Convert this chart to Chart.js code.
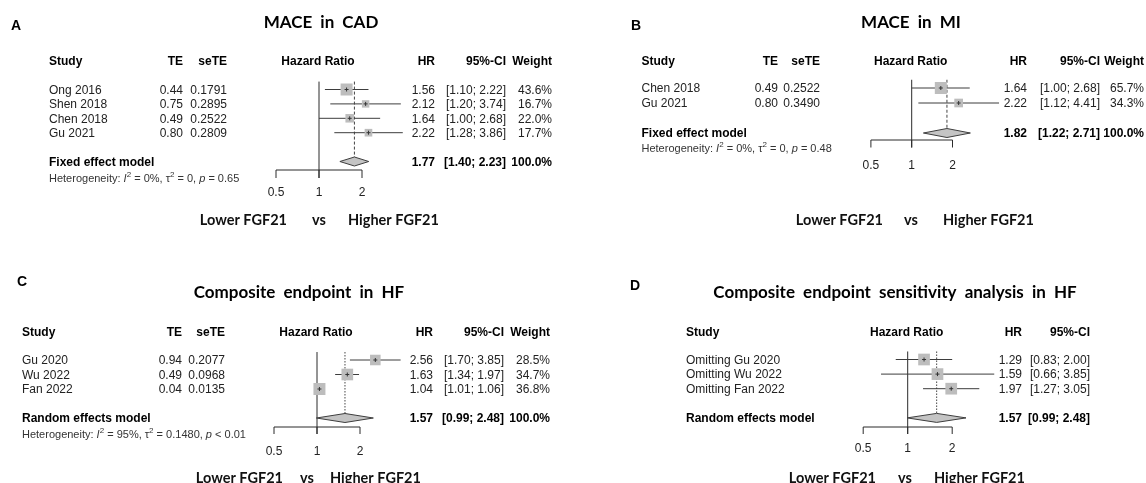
<!DOCTYPE html>
<html lang="en">
<head>
<meta charset="UTF-8">
<title>FGF21 forest plots</title>
<script src="https://cdn.jsdelivr.net/npm/chart.js@4.4.1/dist/chart.umd.min.js"></script>
<style>
  html, body { margin: 0; padding: 0; background: #fff; }
  #wrap { position: relative; width: 1146px; height: 483px; overflow: hidden; background: #fff; }
  #wrap canvas { position: absolute; }
</style>
</head>
<body>
<div id="wrap">
  <canvas id="chartA" width="573" height="241" style="left:0;top:0"></canvas>
  <canvas id="chartB" width="573" height="241" style="left:573px;top:0"></canvas>
  <canvas id="chartC" width="573" height="242" style="left:0;top:241px"></canvas>
  <canvas id="chartD" width="573" height="242" style="left:573px;top:241px"></canvas>
</div>
<script>
// ---- values ----
// A: MACE in CAD
const studiesA = ['Ong 2016', 'Shen 2018', 'Chen 2018', 'Gu 2021'];
const teA      = [0.44, 0.75, 0.49, 0.80];
const seTeA    = [0.1791, 0.2895, 0.2522, 0.2809];
const hrA      = [1.56, 2.12, 1.64, 2.22];
const lowerA   = [1.10, 1.20, 1.00, 1.28];
const upperA   = [2.22, 3.74, 2.68, 3.86];
const weightA  = [43.6, 16.7, 22.0, 17.7];
const pooledA  = [1.77, 1.40, 2.23];        // HR, lower, upper
const hetA     = ['0%', '0', '= 0.65'];     // I2, tau2, p

// B: MACE in MI
const studiesB = ['Chen 2018', 'Gu 2021'];
const teB      = [0.49, 0.80];
const seTeB    = [0.2522, 0.3490];
const hrB      = [1.64, 2.22];
const lowerB   = [1.00, 1.12];
const upperB   = [2.68, 4.41];
const weightB  = [65.7, 34.3];
const pooledB  = [1.82, 1.22, 2.71];
const hetB     = ['0%', '0', '= 0.48'];

// C: Composite endpoint in HF
const studiesC = ['Gu 2020', 'Wu 2022', 'Fan 2022'];
const teC      = [0.94, 0.49, 0.04];
const seTeC    = [0.2077, 0.0968, 0.0135];
const hrC      = [2.56, 1.63, 1.04];
const lowerC   = [1.70, 1.34, 1.01];
const upperC   = [3.85, 1.97, 1.06];
const weightC  = [28.5, 34.7, 36.8];
const pooledC  = [1.57, 0.99, 2.48];
const hetC     = ['95%', '0.1480', '< 0.01'];

// D: sensitivity analysis (leave one out)
const studiesD = ['Omitting Gu 2020', 'Omitting Wu 2022', 'Omitting Fan 2022'];
const hrD      = [1.29, 1.59, 1.97];
const lowerD   = [0.83, 0.66, 1.27];
const upperD   = [2.00, 3.85, 3.05];
const pooledD  = [1.57, 0.99, 2.48];

const hrTicks = [0.5, 1, 2];

// ---- panel layouts (pixels inside each canvas) ----
const layoutA = {
  canvas: 'chartA', letter: 'A', letterX: 11, letterY: 26,
  title: 'MACE in CAD', titleX: 321, titleY: 23,
  headerY: 62, rowTop: 89.5, rowH: 14.4,
  cols: { study: 49, te: 183, se: 227, hr: 435, ci: 506, wt: 552 },
  x1: 319, perDoubling: 43, boxMax: 12,
  axisY: 170, tickLen: 8, tickLabelY: 193, hetGap: 16,
  dash: [3, 2], model: 'Fixed effect model',
  footY: 220, footVs: 319, footLower: 287, footHigher: 348
};
const layoutB = {
  canvas: 'chartB', letter: 'B', letterX: 58, letterY: 26,
  title: 'MACE in MI', titleX: 338, titleY: 23,
  headerY: 62, rowTop: 88, rowH: 15,
  cols: { study: 68.5, te: 205, se: 247, hr: 454, ci: 527, wt: 571 },
  x1: 338.7, perDoubling: 40.8, boxMax: 12,
  axisY: 140, tickLen: 7.5, tickLabelY: 166, hetGap: 15,
  dash: [3, 2], model: 'Fixed effect model',
  footY: 220, footVs: 338, footLower: 310, footHigher: 370
};
const layoutC = {
  canvas: 'chartC', letter: 'C', letterX: 17, letterY: 41,
  title: 'Composite endpoint in HF', titleX: 299, titleY: 52,
  headerY: 91.5, rowTop: 119, rowH: 14.5,
  cols: { study: 22, te: 182, se: 225, hr: 433, ci: 504, wt: 550 },
  x1: 317, perDoubling: 43, boxMax: 12,
  axisY: 186, tickLen: 7, tickLabelY: 210.5, hetGap: 16,
  dash: [1.5, 1.5], model: 'Random effects model',
  footY: 237, footVs: 307, footLower: 283, footHigher: 330
};
const layoutD = {
  canvas: 'chartD', letter: 'D', letterX: 57, letterY: 45,
  title: 'Composite endpoint sensitivity analysis in HF', titleX: 322, titleY: 52,
  headerY: 91.5, rowTop: 118.5, rowH: 14.6,
  cols: { study: 113, hr: 449, ci: 517 },
  x1: 334.7, perDoubling: 44.5, boxMax: 11.7,
  axisY: 186, tickLen: 7, tickLabelY: 207.5, hetGap: 16,
  dash: [1.5, 1.5], model: 'Random effects model',
  footY: 237, footVs: 332, footLower: 303, footHigher: 361
};

const TXT = '"Liberation Sans", Arial, sans-serif';
const HEAD = 'Lato, "Open Sans", sans-serif';

function ciText(lo, hi) { return '[' + lo.toFixed(2) + '; ' + hi.toFixed(2) + ']'; }

function drawHet(ctx, x, y, het) {
  const parts = [['Heterogeneity: ', 'n'], ['I', 'i'], ['2', 's'], [' = ' + het[0] + ', ', 'n'],
    ['\u03c4', 'n'], ['2', 's'], [' = ' + het[1] + ', ', 'n'], ['p', 'i'], [' ' + het[2], 'n']];
  let cx = x;
  for (const [t, s] of parts) {
    ctx.font = s === 'i' ? 'italic 11px ' + TXT : s === 's' ? '8px ' + TXT : '11px ' + TXT;
    ctx.fillText(t, cx, s === 's' ? y - 4 : y);
    cx += ctx.measureText(t).width;
  }
}

function makeForest(L, d) {
  const canvas = document.getElementById(L.canvas);
  const W = canvas.width, H = canvas.height;
  const n = d.studies.length;
  const sumRow = n + 1;
  const maxW = d.weight ? Math.max(...d.weight) : 1;
  const sides = d.hr.map((v, i) => d.weight ? L.boxMax * Math.sqrt(d.weight[i] / maxW) : L.boxMax);
  const pts = d.hr.map((v, i) => ({ x: v, y: i }));

  // confidence interval segments
  const datasets = d.hr.map((v, i) => ({
    data: [{ x: d.lower[i], y: i }, { x: d.upper[i], y: i }],
    showLine: true, borderColor: '#3d3d3d', borderWidth: 1, pointRadius: 0, clip: false, order: 3
  }));
  // weight boxes
  datasets.push({
    data: pts, pointStyle: 'rect', pointRadius: sides.map(s => s / Math.SQRT2),
    backgroundColor: '#bdbdbd', borderColor: '#bdbdbd', borderWidth: 0, clip: false, order: 2
  });
  // point estimate marks
  datasets.push({
    data: pts, pointStyle: 'cross', pointRadius: 2, borderColor: '#333', borderWidth: 1,
    clip: false, order: 1
  });

  const decor = {
    id: 'decor' + L.letter,
    beforeDatasetsDraw(chart) {
      const ctx = chart.ctx, xs = chart.scales.x, ys = chart.scales.y;
      const top = ys.getPixelForValue(-0.55);
      const sumY = ys.getPixelForValue(sumRow);
      ctx.save();
      ctx.strokeStyle = '#2b2b2b';
      ctx.lineWidth = 1;
      // line of no effect
      const xOne = xs.getPixelForValue(1);
      ctx.beginPath(); ctx.moveTo(xOne, top); ctx.lineTo(xOne, L.axisY + L.tickLen); ctx.stroke();
      // bracket axis
      const xa = xs.getPixelForValue(hrTicks[0]), xb = xs.getPixelForValue(hrTicks[hrTicks.length - 1]);
      ctx.beginPath(); ctx.moveTo(xa, L.axisY); ctx.lineTo(xb, L.axisY); ctx.stroke();
      hrTicks.forEach(t => {
        const px = xs.getPixelForValue(t);
        ctx.beginPath(); ctx.moveTo(px, L.axisY); ctx.lineTo(px, L.axisY + L.tickLen); ctx.stroke();
      });
      // pooled estimate line
      const xp = xs.getPixelForValue(d.pooled[0]);
      ctx.setLineDash(L.dash);
      ctx.strokeStyle = '#444';
      ctx.beginPath(); ctx.moveTo(xp, top); ctx.lineTo(xp, sumY - 4.5); ctx.stroke();
      ctx.restore();
    },
    afterDatasetsDraw(chart) {
      const ctx = chart.ctx, xs = chart.scales.x, ys = chart.scales.y;
      const y = ys.getPixelForValue(sumRow);
      const [est, lo, hi] = d.pooled;
      ctx.save();
      ctx.beginPath();
      ctx.moveTo(xs.getPixelForValue(lo), y);
      ctx.lineTo(xs.getPixelForValue(est), y - 4.5);
      ctx.lineTo(xs.getPixelForValue(hi), y);
      ctx.lineTo(xs.getPixelForValue(est), y + 4.5);
      ctx.closePath();
      ctx.fillStyle = '#c4c4c4';
      ctx.fill();
      ctx.strokeStyle = '#3d3d3d';
      ctx.lineWidth = 1;
      ctx.stroke();
      ctx.restore();
    },
    afterDraw(chart) {
      const ctx = chart.ctx, xs = chart.scales.x, ys = chart.scales.y;
      const c = L.cols;
      const rowY = r => ys.getPixelForValue(r) + 1;
      ctx.save();
      ctx.textBaseline = 'middle';
      ctx.fillStyle = '#000';
      // panel letter and title
      ctx.font = 'bold 14px ' + TXT;
      ctx.textAlign = 'left';
      ctx.fillText(L.letter, L.letterX, L.letterY);
      ctx.font = 'bold 17px ' + HEAD;
      ctx.textAlign = 'center';
      if ('wordSpacing' in ctx) ctx.wordSpacing = '4px';
      ctx.fillText(L.title, L.titleX, L.titleY);
      if ('wordSpacing' in ctx) ctx.wordSpacing = '0px';

      // column headers
      ctx.font = 'bold 12px ' + TXT;
      ctx.textAlign = 'left';
      ctx.fillText('Study', c.study, L.headerY);
      ctx.textAlign = 'right';
      if (d.te) { ctx.fillText('TE', c.te, L.headerY); ctx.fillText('seTE', c.se, L.headerY); }
      ctx.fillText('HR', c.hr, L.headerY);
      ctx.fillText('95%-CI', c.ci, L.headerY);
      if (d.weight) ctx.fillText('Weight', c.wt, L.headerY);
      ctx.textAlign = 'center';
      ctx.fillText('Hazard Ratio', xs.getPixelForValue(1) - 1, L.headerY);

      // study rows
      ctx.font = '12px ' + TXT;
      ctx.fillStyle = '#222';
      d.studies.forEach((s, i) => {
        const y = rowY(i);
        ctx.textAlign = 'left';
        ctx.fillText(s, c.study, y);
        ctx.textAlign = 'right';
        if (d.te) {
          ctx.fillText(d.te[i].toFixed(2), c.te, y);
          ctx.fillText(d.seTe[i].toFixed(4), c.se, y);
        }
        ctx.fillText(d.hr[i].toFixed(2), c.hr, y);
        ctx.fillText(ciText(d.lower[i], d.upper[i]), c.ci, y);
        if (d.weight) ctx.fillText(d.weight[i].toFixed(1) + '%', c.wt, y);
      });

      // pooled row
      const sy = rowY(sumRow);
      ctx.font = 'bold 12px ' + TXT;
      ctx.fillStyle = '#000';
      ctx.textAlign = 'left';
      ctx.fillText(L.model, c.study, sy);
      ctx.textAlign = 'right';
      ctx.fillText(d.pooled[0].toFixed(2), c.hr, sy);
      ctx.fillText(ciText(d.pooled[1], d.pooled[2]), c.ci, sy);
      if (d.weight) ctx.fillText('100.0%', c.wt, sy);

      if (d.het) {
        ctx.fillStyle = '#333';
        ctx.textAlign = 'left';
        drawHet(ctx, c.study, sy + L.hetGap, d.het);
      }

      // tick labels
      ctx.font = '12px ' + TXT;
      ctx.fillStyle = '#222';
      ctx.textAlign = 'center';
      hrTicks.forEach(t => ctx.fillText(String(t), xs.getPixelForValue(t), L.tickLabelY));

      // direction labels
      ctx.font = 'bold 14.5px ' + HEAD;
      ctx.fillStyle = '#111';
      ctx.textAlign = 'right';
      ctx.fillText('Lower FGF21', L.footLower, L.footY);
      ctx.textAlign = 'center';
      ctx.fillText('vs', L.footVs, L.footY);
      ctx.textAlign = 'left';
      ctx.fillText('Higher FGF21', L.footHigher, L.footY);
      ctx.restore();
    }
  };

  const left = L.x1 - 2 * L.perDoubling, right = L.x1 + 3 * L.perDoubling;
  const top = L.rowTop - L.rowH, bottom = L.rowTop + 7 * L.rowH;

  return new Chart(canvas, {
    type: 'scatter',
    data: { datasets },
    options: {
      responsive: false,
      animation: false,
      events: [],
      layout: { padding: { left: left, right: W - right, top: top, bottom: H - bottom } },
      plugins: { legend: { display: false }, tooltip: { enabled: false } },
      scales: {
        x: { type: 'logarithmic', min: 0.25, max: 8, bounds: 'data', display: false },
        y: { type: 'linear', min: -1, max: 7, reverse: true, display: false }
      }
    },
    plugins: [decor]
  });
}

makeForest(layoutA, { studies: studiesA, te: teA, seTe: seTeA, hr: hrA, lower: lowerA, upper: upperA, weight: weightA, pooled: pooledA, het: hetA });
makeForest(layoutB, { studies: studiesB, te: teB, seTe: seTeB, hr: hrB, lower: lowerB, upper: upperB, weight: weightB, pooled: pooledB, het: hetB });
makeForest(layoutC, { studies: studiesC, te: teC, seTe: seTeC, hr: hrC, lower: lowerC, upper: upperC, weight: weightC, pooled: pooledC, het: hetC });
makeForest(layoutD, { studies: studiesD, hr: hrD, lower: lowerD, upper: upperD, pooled: pooledD });
</script>
</body>
</html>
